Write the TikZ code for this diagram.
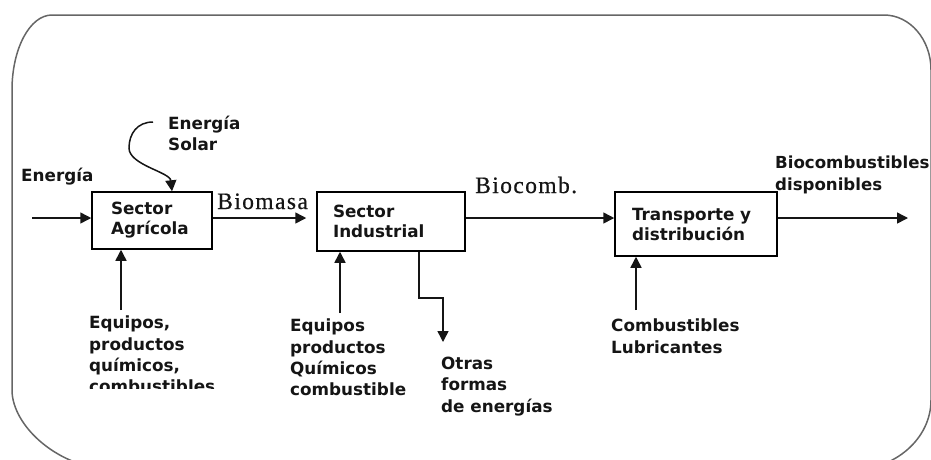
\documentclass[tikz,border=0pt]{standalone}
\usepackage{fontspec}
\setmainfont{DejaVu Sans}
\newfontfamily\serifB{Liberation Serif}[LetterSpace=6,FakeBold=0.6]
\usetikzlibrary{arrows.meta}
\definecolor{frame}{HTML}{666666}
\definecolor{ink}{HTML}{151515}
\tikzset{
  arr/.style={draw=ink, line width=1.5pt, -{Triangle[length=11pt,width=11pt]}},
  boxnode/.style={draw=black, line width=1.5pt, align=left, text=ink,
    font=\bfseries\fontsize{16.8}{20}\selectfont, inner ysep=0pt},
  lab/.style={anchor=north west, inner sep=0pt, align=left, text=ink,
    font=\bfseries\fontsize{16.8}{21.3}\selectfont},
  serlab/.style={anchor=base west, inner sep=0pt, text=ink,
    font=\serifB\fontsize{23.5}{26}\selectfont}
}
\begin{document}
\begin{tikzpicture}[x=1pt,y=-1pt]
\useasboundingbox (0,0) rectangle (931,459);
% outer frame
\draw[frame, line width=1.5pt]
  (12,90) .. controls (12,48.6) and (29.9,15) .. (52,15)
  -- (884,15) .. controls (910,15) and (931,39.6) .. (931,70)
  -- (931,400) .. controls (931,438.6) and (895.2,470) .. (851,470)
  -- (117,470) .. controls (59,470) and (12,426) .. (12,390) -- cycle;

% boxes
\node[boxnode, text width=82pt, inner xsep=19pt, minimum height=57pt] (b1) at (152,220.5) {Sector\\Agrícola};
\node[boxnode, text width=116pt, inner xsep=16pt, minimum height=59pt] (b2) at (391,221.5) {Sector\\Industrial};
\node[boxnode, text width=128pt, inner xsep=17pt, minimum height=64pt] (b3) at (696,224) {Transporte y\\distribución};

% coordinates
\coordinate (ein) at (32,218);
\coordinate (sol) at (153,122);
\coordinate (sm) at (129,148);
\coordinate (out) at (908,218);
\coordinate (e1) at (121,310);
\coordinate (e2) at (340,313);
\coordinate (e3) at (636,310);
\coordinate (o1) at (419,298);
\coordinate (ot) at (443,342);

% connectors
\draw[arr] (ein) -- (ein -| b1.west);
\draw[arr] (sol) .. controls (137,122) and (129,134) .. (sm)
  .. controls (129,165) and (170,172) .. ([xshift=20pt]b1.north);
\draw[arr, shorten >=10pt] (ein -| b1.east) -- (ein -| b2.west);
\draw[arr] (ein -| b2.east) -- (ein -| b3.west);
\draw[arr] (ein -| b3.east) -- (out);
\draw[arr] (e1) -- (e1 |- b1.south);
\draw[arr] (e2) -- (e2 |- b2.south);
\draw[arr] (e3) -- (e3 |- b3.south);
\draw[arr] (o1 |- b2.south) -- (o1) -| (ot);

% labels
\node[lab] (lenergia) at (21,168) {Energía};
\node[lab] (lsolar) at (168,116) {Energía\\Solar};
\node[serlab] (lbiomasa) at (217,209) {Biomasa};
\node[serlab] (lbiocomb) at (475,193) {Biocomb.};
\node[lab, font=\bfseries\fontsize{16.6}{22}\selectfont] (ldisp) at (775,156) {Biocombustibles\\disponibles};
\begin{scope}
\clip (0,0) rectangle (931,388);
\node[lab] (leq1) at (89,316) {Equipos,\\productos\\químicos,\\combustibles};
\end{scope}
\node[lab] (leq2) at (290,319) {Equipos\\productos\\Químicos\\combustible};
\node[lab] (lotras) at (441,357) {Otras\\formas\\de energías};
\node[lab] (lcomb) at (611,319) {Combustibles\\Lubricantes};
\end{tikzpicture}
\end{document}
